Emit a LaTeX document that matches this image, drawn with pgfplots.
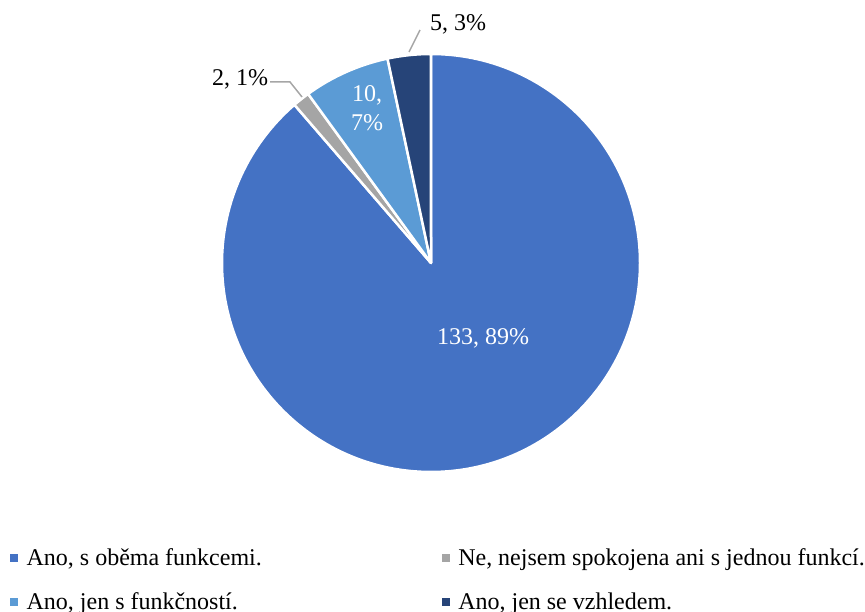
\documentclass[border=0pt]{standalone}
\usepackage{pgfplots}
\pgfplotsset{compat=1.18}
\usepackage{pgfplotstable}
\usepackage{fontspec}
\setmainfont{Liberation Serif}

\definecolor{cBoth}{HTML}{4472C4}
\definecolor{cNone}{HTML}{A5A5A5}
\definecolor{cFunc}{HTML}{5B9BD5}
\definecolor{cLook}{HTML}{264478}
\definecolor{cLead}{HTML}{A6A6A6}

\pgfplotstableread{
slice value
1 133
2 2
3 10
4 5
}\piedata

\begin{document}
\begin{tikzpicture}
% slice angles from the counts, clockwise from 12 o'clock
\pgfplotstablegetelem{0}{value}\of\piedata\let\va\pgfplotsretval
\pgfplotstablegetelem{1}{value}\of\piedata\let\vb\pgfplotsretval
\pgfplotstablegetelem{2}{value}\of\piedata\let\vc\pgfplotsretval
\pgfplotstablegetelem{3}{value}\of\piedata\let\vd\pgfplotsretval
\pgfmathsetmacro\total{\va+\vb+\vc+\vd}
\pgfmathsetmacro\eA{90-360*(\va/\total)}
\pgfmathsetmacro\eB{\eA-360*(\vb/\total)}
\pgfmathsetmacro\eC{\eB-360*(\vc/\total)}
\pgfmathsetmacro\eD{\eC-360*(\vd/\total)}
\def\R{209pt}
\begin{axis}[
    x=1pt, y=1pt,
    xmin=-431, xmax=434, ymin=-349, ymax=263,
    hide axis, clip=false,
    font=\fontsize{24}{28.8}\selectfont,
    legend columns=2,
    legend cell align=left,
    legend image code/.code={\fill[#1] (0pt,-3.5pt) rectangle (7pt,3.5pt);},
    legend style={draw=none, fill=none, at={(axis cs:-421,-350)}, anchor=south west,
        inner sep=0pt, row sep=21pt,
        /tikz/every odd column/.append style={column sep=7pt},
        /tikz/every even column/.append style={column sep=178pt},
        font=\fontsize{24}{28.8}\selectfont},
]
\filldraw[fill=cBoth, draw=white, line width=2.5pt, line join=round]
    (axis cs:0,0) -- ++(90:\R) arc[start angle=90, end angle=\eA, radius=\R] -- cycle;
\filldraw[fill=cNone, draw=white, line width=2.5pt, line join=round]
    (axis cs:0,0) -- ++(\eA:\R) arc[start angle=\eA, end angle=\eB, radius=\R] -- cycle;
\filldraw[fill=cFunc, draw=white, line width=2.5pt, line join=round]
    (axis cs:0,0) -- ++(\eB:\R) arc[start angle=\eB, end angle=\eC, radius=\R] -- cycle;
\filldraw[fill=cLook, draw=white, line width=2.5pt, line join=round]
    (axis cs:0,0) -- ++(\eC:\R) arc[start angle=\eC, end angle=\eD, radius=\R] -- cycle;

% data labels
\node[text=white] at (axis cs:52,-75) {133, 89\%};
\node[text=white, align=center, font=\fontsize{24}{29}\selectfont] at (axis cs:-64,155) {10,\\7\%};
\node at (axis cs:-191,184) {2, 1\%};
\node at (axis cs:27,239) {5, 3\%};
\draw[cLead, line width=1.5pt] (axis cs:-161,181) -- (axis cs:-141,181) -- (axis cs:-129,166);
\draw[cLead, line width=1.5pt] (axis cs:-11,233) -- (axis cs:-22,211);

\addlegendimage{cBoth}
\addlegendentry{Ano, s oběma funkcemi.}
\addlegendimage{cNone}
\addlegendentry{Ne, nejsem spokojena ani s jednou funkcí.}
\addlegendimage{cFunc}
\addlegendentry{Ano, jen s funkčností.}
\addlegendimage{cLook}
\addlegendentry{Ano, jen se vzhledem.}
\end{axis}
\pgfresetboundingbox
\useasboundingbox (current axis.south west) rectangle (current axis.north east);
\end{tikzpicture}
\end{document}
